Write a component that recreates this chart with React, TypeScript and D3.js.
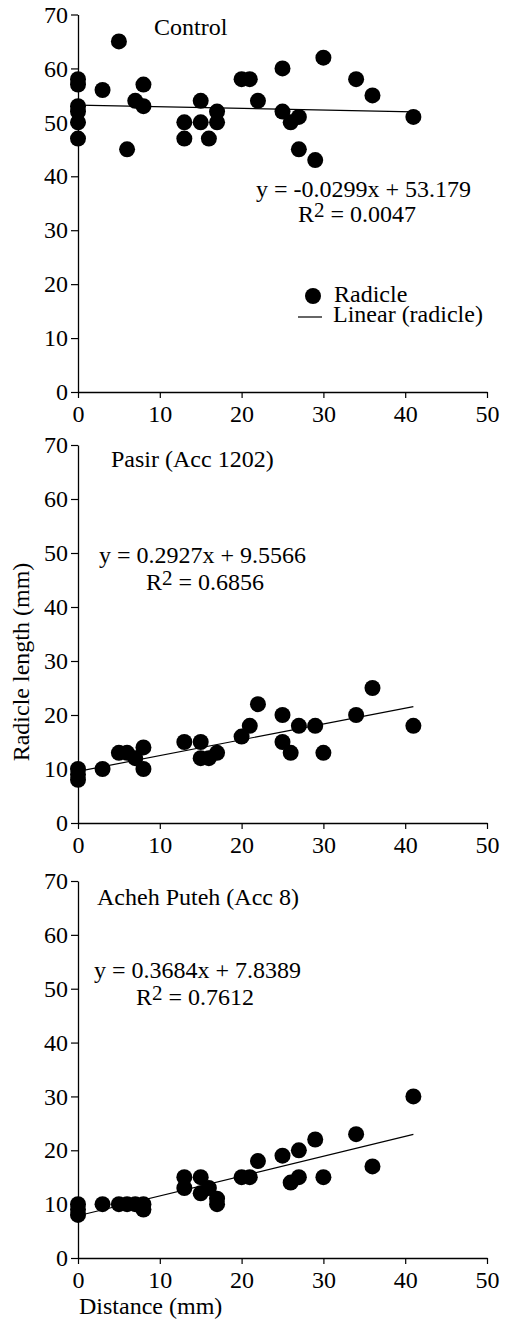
import { useEffect, useRef } from "react";
import * as d3 from "d3";

// Distance (mm) vs radicle length (mm)
const controlX = [0, 0, 0, 0, 0, 0, 3, 5, 6, 7, 8, 8, 13, 13, 15, 15, 16, 17, 17, 20, 21, 22, 25, 25, 26, 27, 27, 29, 30, 34, 36, 41];
const controlY = [58, 57, 53, 52, 50, 47, 56, 65, 45, 54, 57, 53, 50, 47, 54, 50, 47, 52, 50, 58, 58, 54, 60, 52, 50, 51, 45, 43, 62, 58, 55, 51];

const pasirX = [0, 0, 0, 3, 5, 6, 7, 8, 8, 13, 15, 15, 16, 17, 20, 21, 22, 25, 25, 26, 27, 29, 30, 34, 36, 41];
const pasirY = [10, 9, 8, 10, 13, 13, 12, 14, 10, 15, 15, 12, 12, 13, 16, 18, 22, 20, 15, 13, 18, 18, 13, 20, 25, 18];

const achehX = [0, 0, 0, 3, 5, 6, 7, 8, 8, 13, 13, 15, 15, 16, 17, 17, 20, 21, 22, 25, 26, 27, 27, 29, 30, 34, 36, 41];
const achehY = [10, 9, 8, 10, 10, 10, 10, 10, 9, 15, 13, 15, 12, 13, 11, 10, 15, 15, 18, 19, 14, 15, 20, 22, 15, 23, 17, 30];

const titles = ["Control", "Pasir (Acc 1202)", "Acheh Puteh (Acc 8)"];
const slopes = [-0.0299, 0.2927, 0.3684];
const intercepts = [53.179, 9.5566, 7.8389];
const eqLabels = ["y = -0.0299x + 53.179", "y = 0.2927x + 9.5566", "y = 0.3684x + 7.8389"];
const r2Labels = ["0.0047", "0.6856", "0.7612"];

const xTicks = [0, 10, 20, 30, 40, 50];
const yTicks = [0, 10, 20, 30, 40, 50, 60, 70];

const FONT = "'Liberation Serif', 'Times New Roman', serif";
const FS = 24;

const panels = [
  { xs: controlX, ys: controlY, top: 14.5, bottom: 392, title: [154, 35], eq: [256, 197], r2: [298, 222] },
  { xs: pasirX, ys: pasirY, top: 445, bottom: 823, title: [111, 467], eq: [99, 563], r2: [146, 590] },
  { xs: achehX, ys: achehY, top: 881, bottom: 1258, title: [97, 905], eq: [94, 978], r2: [136, 1005] },
];

const App = () => {
  const ref = useRef<SVGSVGElement | null>(null);

  useEffect(() => {
    const svg = d3.select(ref.current);
    svg.selectAll("*").remove();

    const x = d3.scaleLinear().domain([0, 50]).range([78, 487]);

    panels.forEach((p, i) => {
      const y = d3.scaleLinear().domain([0, 70]).range([p.bottom, p.top]);
      const g = svg.append("g");

      const xAxis = g
        .append("g")
        .attr("transform", `translate(0,${p.bottom})`)
        .call(d3.axisBottom(x).tickValues(xTicks).tickSize(6).tickSizeOuter(0).tickPadding(7));
      const yAxis = g
        .append("g")
        .attr("transform", `translate(${x(0)},0)`)
        .call(d3.axisLeft(y).tickValues(yTicks).tickSize(7).tickSizeOuter(0).tickPadding(3));

      [xAxis, yAxis].forEach((a) => {
        a.selectAll("text").attr("font-family", FONT).attr("font-size", FS).attr("fill", "#000");
        a.selectAll("line").attr("stroke", "#000").attr("stroke-width", 1.2);
        a.select(".domain").attr("stroke", "#000").attr("stroke-width", 1.3);
      });

      // trend line over the data range
      const [x0, x1] = d3.extent(p.xs) as [number, number];
      const line = d3
        .line<number>()
        .x((d) => x(d))
        .y((d) => y(slopes[i] * d + intercepts[i]));
      g.append("path")
        .datum([x0, x1])
        .attr("d", line)
        .attr("fill", "none")
        .attr("stroke", "#000")
        .attr("stroke-width", 1.2);

      g.selectAll("circle")
        .data(p.xs.map((v, j) => [v, p.ys[j]]))
        .enter()
        .append("circle")
        .attr("cx", (d) => x(d[0]))
        .attr("cy", (d) => y(d[1]))
        .attr("r", 8)
        .attr("fill", "#000");

      const txt = g.append("g").attr("font-family", FONT).attr("font-size", FS).attr("fill", "#000");
      txt.append("text").attr("x", p.title[0]).attr("y", p.title[1]).text(titles[i]);
      txt.append("text").attr("x", p.eq[0]).attr("y", p.eq[1]).text(eqLabels[i]);
      const r2 = txt.append("text").attr("x", p.r2[0]).attr("y", p.r2[1]);
      r2.append("tspan").text("R");
      r2.append("tspan").attr("font-size", 21).attr("dy", -5).text("2");
      r2.append("tspan").attr("dy", 5).text(" = " + r2Labels[i]);
    });

    // legend in the first panel
    const lg = svg.append("g").attr("font-family", FONT).attr("font-size", FS).attr("fill", "#000");
    lg.append("circle").attr("cx", 313).attr("cy", 296).attr("r", 8).attr("fill", "#000");
    lg.append("text").attr("x", 334).attr("y", 302).text("Radicle");
    lg.append("line").attr("x1", 298).attr("x2", 322).attr("y1", 317).attr("y2", 317).attr("stroke", "#000").attr("stroke-width", 1.2);
    lg.append("text").attr("x", 333).attr("y", 322).text("Linear (radicle)");

    svg
      .append("text")
      .attr("transform", "translate(29,662) rotate(-90)")
      .attr("text-anchor", "middle")
      .attr("font-family", FONT)
      .attr("font-size", FS)
      .text("Radicle length (mm)");

    svg
      .append("text")
      .attr("x", 79)
      .attr("y", 1314)
      .attr("font-family", FONT)
      .attr("font-size", FS)
      .text("Distance (mm)");
  }, []);

  return (
    <svg
      ref={ref}
      width={505}
      height={1321}
      style={{ position: "absolute", left: 0, top: 0, background: "#fff" }}
    ></svg>
  );
};

export default App;
